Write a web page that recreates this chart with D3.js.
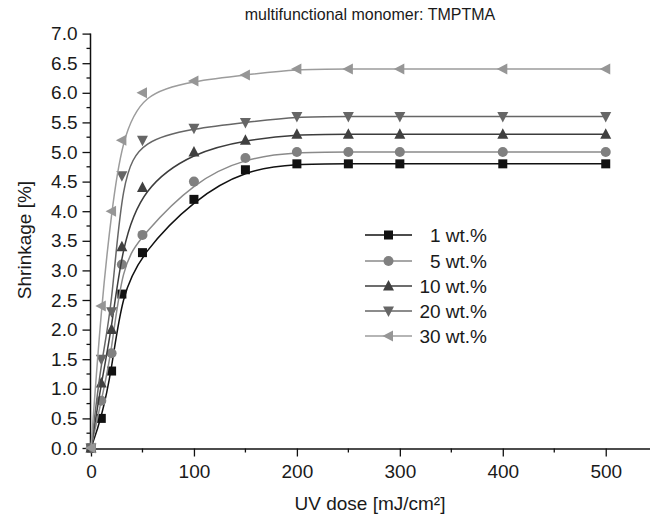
<!DOCTYPE html>
<html><head><meta charset="utf-8">
<script src="https://cdn.jsdelivr.net/npm/d3@7"></script>
<style>body{margin:0;background:#fff}text{font-family:"Liberation Sans",Arial,sans-serif;fill:#1a1a1a}</style>
</head><body><svg id="c" width="650" height="523"></svg>
<script>
const doses = [0,10,20,30,50,100,150,200,250,300,400,500];
const seriesNames = ["1 wt.%","5 wt.%","10 wt.%","20 wt.%","30 wt.%"];
const s1  = [0,0.5,1.3,2.6,3.3,4.2,4.7,4.8,4.8,4.8,4.8,4.8];
const s5  = [0,0.8,1.6,3.1,3.6,4.5,4.9,5.0,5.0,5.0,5.0,5.0];
const s10 = [0,1.1,2.0,3.4,4.4,5.0,5.2,5.3,5.3,5.3,5.3,5.3];
const s20 = [0,1.5,2.3,4.6,5.2,5.4,5.5,5.6,5.6,5.6,5.6,5.6];
const s30 = [0,2.4,4.0,5.2,6.0,6.2,6.3,6.4,6.4,6.4,6.4,6.4];
const xTicks = [0,100,200,300,400,500];
const yTicks = [0,0.5,1,1.5,2,2.5,3,3.5,4,4.5,5,5.5,6,6.5,7];

const allSeries = [s1,s5,s10,s20,s30];
const styles = [
  {line:"#111111", fill:"#111111", sym:"square"},
  {line:"#8a8a8a", fill:"#808080", sym:"circle"},
  {line:"#3c3c3c", fill:"#404040", sym:"up"},
  {line:"#666666", fill:"#666666", sym:"down"},
  {line:"#9c9c9c", fill:"#969696", sym:"left"}
];

const svg = d3.select("#c");
const x = d3.scaleLinear().domain([0,543]).range([91,650]);
const y = d3.scaleLinear().domain([0,7]).range([448,33.6]);

// axes
const xAxis = d3.axisBottom(x).tickValues(xTicks).tickSize(8).tickPadding(8).tickFormat(d3.format("d"));
const gx = svg.append("g").attr("transform","translate(0,448.5)").call(xAxis);
gx.select(".domain").attr("d","M90,0.5H650").attr("stroke","#111").attr("stroke-width",1.5);
gx.selectAll(".tick line").attr("stroke","#111").attr("stroke-width",1.3);
gx.selectAll(".tick text").attr("font-size",19).style("fill","#1a1a1a");
const xMinor = d3.range(50,550,100);
gx.selectAll(".minor").data(xMinor).enter().append("line")
  .attr("x1",d=>x(d)).attr("x2",d=>x(d)).attr("y1",0).attr("y2",4).attr("stroke","#111").attr("stroke-width",1.3);

const yAxis = d3.axisLeft(y).tickValues(yTicks).tickSize(8).tickPadding(5).tickFormat(d3.format(".1f"));
const gy = svg.append("g").attr("transform","translate(90.5,0)").call(yAxis);
gy.select(".domain").attr("d","M0,"+y(7)+"V449").attr("stroke","#111").attr("stroke-width",1.5);
gy.selectAll(".tick line").attr("stroke","#111").attr("stroke-width",1.3);
gy.selectAll(".tick text").attr("font-size",19).style("fill","#1a1a1a");
const yMinor = d3.range(0.25,7,0.5);
gy.selectAll(".minor").data(yMinor).enter().append("line")
  .attr("x1",-4).attr("x2",0).attr("y1",d=>y(d)).attr("y2",d=>y(d)).attr("stroke","#111").attr("stroke-width",1.3);

// labels
svg.append("text").attr("x",370).attr("y",20).attr("text-anchor","middle").attr("font-size",16).text("multifunctional monomer: TMPTMA");
svg.append("text").attr("x",370).attr("y",510).attr("text-anchor","middle").attr("font-size",19).text("UV dose [mJ/cm²]");
svg.append("text").attr("transform","translate(31,240) rotate(-90)").attr("text-anchor","middle").attr("font-size",19).text("Shrinkage [%]");

function marker(g, sym, cx, cy, fill){
  const s = 5;
  if(sym==="square") g.append("rect").attr("x",cx-4.5).attr("y",cy-4.5).attr("width",9).attr("height",9).attr("fill",fill);
  else if(sym==="circle") g.append("circle").attr("cx",cx).attr("cy",cy).attr("r",5).attr("fill",fill);
  else {
    let pts;
    if(sym==="up") pts=[[cx,cy-6],[cx+5.5,cy+4.5],[cx-5.5,cy+4.5]];
    else if(sym==="down") pts=[[cx,cy+6],[cx+5.5,cy-4.5],[cx-5.5,cy-4.5]];
    else pts=[[cx-6,cy],[cx+4.5,cy-5.5],[cx+4.5,cy+5.5]];
    g.append("polygon").attr("points",pts.map(p=>p.join(",")).join(" ")).attr("fill",fill);
  }
}

const line = d3.line().x(d=>x(d[0])).y(d=>y(d[1])).curve(d3.curveBasis);
allSeries.forEach((vals,i)=>{
  const st = styles[i];
  const data = doses.map((d,j)=>[d,vals[j]]);
  const g = svg.append("g");
  g.append("path").attr("d",line(data)).attr("fill","none").attr("stroke",st.line).attr("stroke-width",1.5);
  data.forEach(p=>marker(g, st.sym, x(p[0]), y(p[1]), st.fill));
});

// legend
const legY = [235,261,286,311,336];
seriesNames.forEach((name,i)=>{
  const st = styles[i];
  const g = svg.append("g");
  g.append("line").attr("x1",365).attr("x2",412).attr("y1",legY[i]).attr("y2",legY[i]).attr("stroke",st.line).attr("stroke-width",1.5);
  marker(g, st.sym, 388.5, legY[i], st.fill);
  g.append("text").attr("x",487).attr("y",legY[i]+7).attr("text-anchor","end").attr("font-size",19).text(name);
});
</script></body></html>
